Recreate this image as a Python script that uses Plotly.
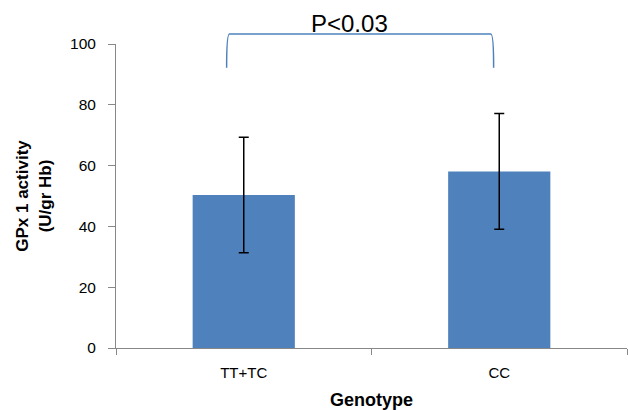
import plotly.graph_objects as go

categories = ["TT+TC", "CC"]
values = [50.3, 58.1]
errors = [19.0, 19.0]
y_ticks = [0, 20, 40, 60, 80, 100]
p_label = "P<0.03"

FONT = "Liberation Sans, Arial, Helvetica, sans-serif"
BAR = "#4F81BD"
AXIS = "#888888"

fig = go.Figure()
fig.add_trace(go.Bar(
    x=categories, y=values, width=0.4,
    marker=dict(color=BAR, line=dict(width=0)),
    error_y=dict(type="data", array=errors, visible=True,
                 color="black", thickness=1.5, width=5),
    showlegend=False,
))

# significance bracket (x in data units, y in paper units)
xl, xr = -0.067, 0.978
yb, yt = 0.922, 1.033
c = 0.011
path = (f"M {xl},{yb} Q {xl},{yt} {xl + c},{yt} L {xr - c},{yt} "
        f"Q {xr},{yt} {xr},{yb}")
fig.add_shape(type="path", path=path, xref="x", yref="paper",
              line=dict(color=BAR, width=1.5))
fig.add_annotation(x=0.412, y=1.069, xref="x", yref="paper", text=p_label,
                   showarrow=False, font=dict(family=FONT, size=24, color="black"),
                   xanchor="center", yanchor="middle")

fig.update_layout(
    width=628, height=410,
    margin=dict(l=116, r=1, t=44, b=62),
    paper_bgcolor="white", plot_bgcolor="white",
    font=dict(family=FONT, color="black"),
    bargap=0.6,
)
fig.update_xaxes(
    range=[-0.5, 1.5], showline=True, linecolor=AXIS, linewidth=1,
    ticks="outside", tickson="boundaries", ticklen=6, tickcolor=AXIS,
    tickfont=dict(size=15), ticklabelstandoff=11, automargin=False,
    showgrid=False, zeroline=False,
    title=dict(text="<b>Genotype</b>", font=dict(size=18), standoff=14),
)
fig.update_yaxes(
    range=[0, 100], tickvals=y_ticks, showline=True, linecolor=AXIS, linewidth=1,
    ticks="outside", ticklen=7, tickcolor=AXIS, tickfont=dict(size=15.5),
    ticklabelstandoff=9, automargin=False,
    showgrid=False, zeroline=False,
    title=dict(text="<b>GPx 1 activity<br>(U/gr Hb)</b>", font=dict(size=17), standoff=14),
)

fig.write_html("out.html", config={"displayModeBar": False},
               post_script="document.body.style.margin='0';document.body.style.overflow='hidden';")
